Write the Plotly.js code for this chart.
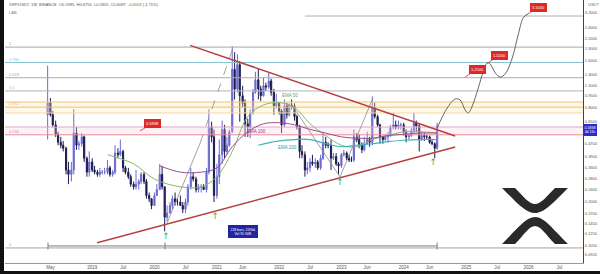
<!DOCTYPE html>
<html><head><meta charset="utf-8">
<script src="https://cdn.plot.ly/plotly-3.0.1.min.js"></script>
<style>html,body{margin:0;padding:0;background:#fff;}#wrap{position:relative;width:600px;height:274px;}#chart{width:600px;height:274px;}
.bar{position:absolute;background:#111;z-index:10;}</style>
</head><body><div id="wrap"><div id="chart"></div>
<div class="bar" style="left:0;top:0;width:4px;height:274px;"></div>
<div class="bar" style="left:0;top:271px;width:600px;height:3px;"></div>
</div>
<script>
// ---------- DATA ----------
const candleDates = [
'2018-04-15','2018-05-01','2018-05-15','2018-06-01','2018-06-15','2018-07-01','2018-07-15','2018-08-01','2018-08-15','2018-09-01','2018-09-15','2018-10-01','2018-10-15','2018-11-01','2018-11-15','2018-12-01','2018-12-15',
'2019-01-01','2019-01-15','2019-02-01','2019-02-15','2019-03-01','2019-03-15','2019-04-01','2019-04-15','2019-05-01','2019-05-15','2019-06-01','2019-06-15','2019-07-01','2019-07-15','2019-08-01','2019-08-15','2019-09-01','2019-09-15','2019-10-01','2019-10-15','2019-11-01','2019-11-15','2019-12-01','2019-12-15',
'2020-01-01','2020-01-15','2020-02-01','2020-02-15','2020-03-01','2020-03-15','2020-04-01','2020-04-15','2020-05-01','2020-05-15','2020-06-01','2020-06-15','2020-07-01','2020-07-15','2020-08-01','2020-08-15','2020-09-01','2020-09-15','2020-10-01','2020-10-15','2020-11-01','2020-11-15','2020-12-01','2020-12-15',
'2021-01-01','2021-01-15','2021-02-01','2021-02-15','2021-03-01','2021-03-15','2021-04-01','2021-04-15','2021-05-01','2021-05-15','2021-06-01','2021-06-15','2021-07-01','2021-07-15','2021-08-01','2021-08-15','2021-09-01','2021-09-15','2021-10-01','2021-10-15','2021-11-01','2021-11-15','2021-12-01','2021-12-15',
'2022-01-01','2022-01-15','2022-02-01','2022-02-15','2022-03-01','2022-03-15','2022-04-01','2022-04-15','2022-05-01','2022-05-15','2022-06-01','2022-06-15','2022-07-01','2022-07-15','2022-08-01','2022-08-15','2022-09-01','2022-09-15','2022-10-01','2022-10-15','2022-11-01','2022-11-15','2022-12-01','2022-12-15',
'2023-01-01','2023-01-15','2023-02-01','2023-02-15','2023-03-01','2023-03-15','2023-04-01','2023-04-15','2023-05-01','2023-05-15','2023-06-01','2023-06-15','2023-07-01','2023-07-15','2023-08-01','2023-08-15','2023-09-01','2023-09-15','2023-10-01','2023-10-15','2023-11-01','2023-11-15','2023-12-01','2023-12-15',
'2024-01-01','2024-01-15','2024-02-01','2024-02-15','2024-03-01','2024-03-15','2024-04-01','2024-04-15','2024-05-01','2024-05-15','2024-06-01','2024-06-15','2024-07-01','2024-07-15'];
const opens = [
0.72,0.86,0.72,0.62,0.54,0.48,0.46,0.44,0.32,0.30,0.32,0.55,0.46,0.47,0.52,0.38,0.31,
0.36,0.32,0.31,0.30,0.31,0.31,0.31,0.33,0.30,0.31,0.41,0.40,0.42,0.33,0.31,0.29,0.26,0.25,0.26,0.27,0.30,0.27,0.22,0.21,
0.19,0.22,0.24,0.30,0.25,0.16,0.17,0.19,0.21,0.20,0.20,0.19,0.18,0.20,0.25,0.29,0.28,0.24,0.25,0.25,0.24,0.31,0.60,0.52,
0.22,0.29,0.40,0.58,0.42,0.46,0.56,1.40,1.05,1.50,0.95,0.85,0.63,0.60,0.74,1.00,1.20,1.05,0.95,1.10,1.08,1.18,1.00,0.82,
0.85,0.76,0.62,0.82,0.72,0.83,0.82,0.70,0.60,0.42,0.40,0.32,0.33,0.36,0.35,0.36,0.33,0.38,0.48,0.46,0.46,0.38,0.39,0.35,
0.34,0.40,0.41,0.38,0.37,0.37,0.52,0.50,0.46,0.43,0.47,0.50,0.48,0.80,0.70,0.62,0.52,0.50,0.52,0.53,0.60,0.62,0.60,0.62,
0.62,0.56,0.52,0.53,0.57,0.64,0.61,0.50,0.53,0.52,0.52,0.48,0.47,0.44];
const highs = [
1.48,0.92,0.76,0.66,0.56,0.52,0.49,0.45,0.36,0.36,0.78,0.60,0.49,0.55,0.53,0.39,0.42,
0.38,0.34,0.32,0.33,0.32,0.33,0.37,0.34,0.32,0.46,0.44,0.50,0.43,0.34,0.33,0.30,0.27,0.32,0.28,0.31,0.31,0.28,0.23,0.21,
0.23,0.26,0.35,0.34,0.25,0.19,0.20,0.22,0.23,0.21,0.22,0.20,0.21,0.26,0.33,0.31,0.29,0.26,0.26,0.26,0.33,0.78,0.65,0.58,
0.35,0.50,0.66,0.62,0.52,0.58,1.96,1.80,1.75,1.58,1.10,0.90,0.68,0.78,1.05,1.35,1.41,1.10,1.24,1.15,1.35,1.22,1.05,0.98,
0.86,0.78,0.90,0.86,0.85,0.90,0.85,0.72,0.62,0.46,0.42,0.36,0.38,0.40,0.38,0.37,0.40,0.55,0.52,0.48,0.50,0.41,0.41,0.36,
0.41,0.43,0.42,0.40,0.39,0.58,0.55,0.54,0.48,0.52,0.56,0.52,0.94,0.86,0.72,0.63,0.53,0.54,0.56,0.62,0.74,0.66,0.66,0.64,
0.64,0.58,0.54,0.59,0.74,0.66,0.63,0.56,0.55,0.54,0.53,0.50,0.48,0.64];
const lows = [
0.50,0.70,0.60,0.52,0.46,0.44,0.42,0.30,0.26,0.27,0.30,0.43,0.43,0.45,0.36,0.29,0.29,
0.31,0.30,0.29,0.29,0.30,0.30,0.30,0.29,0.29,0.30,0.38,0.39,0.31,0.30,0.28,0.25,0.24,0.24,0.24,0.26,0.26,0.21,0.20,0.18,
0.19,0.22,0.24,0.24,0.13,0.15,0.17,0.18,0.19,0.19,0.19,0.17,0.17,0.19,0.24,0.27,0.23,0.23,0.23,0.24,0.23,0.30,0.48,0.20,
0.21,0.26,0.35,0.38,0.40,0.45,0.55,0.90,1.00,0.65,0.80,0.52,0.52,0.51,0.72,0.98,0.90,0.88,0.94,1.02,1.05,0.95,0.72,0.79,
0.72,0.55,0.60,0.68,0.70,0.78,0.66,0.58,0.38,0.38,0.29,0.30,0.31,0.34,0.33,0.32,0.32,0.37,0.44,0.44,0.32,0.37,0.34,0.30,
0.33,0.39,0.37,0.36,0.36,0.36,0.48,0.44,0.41,0.42,0.47,0.45,0.46,0.68,0.60,0.47,0.47,0.49,0.48,0.52,0.58,0.58,0.58,0.58,
0.53,0.48,0.50,0.52,0.55,0.56,0.42,0.49,0.49,0.50,0.47,0.46,0.38,0.43];
const closes = [
0.86,0.72,0.62,0.54,0.48,0.46,0.44,0.32,0.30,0.32,0.55,0.46,0.47,0.52,0.38,0.31,0.36,
0.32,0.31,0.30,0.31,0.31,0.31,0.33,0.30,0.31,0.41,0.40,0.42,0.33,0.31,0.29,0.26,0.25,0.26,0.27,0.30,0.27,0.22,0.21,0.19,
0.22,0.24,0.30,0.25,0.16,0.17,0.19,0.21,0.20,0.20,0.19,0.18,0.20,0.25,0.29,0.28,0.24,0.25,0.25,0.24,0.31,0.60,0.52,0.22,
0.29,0.40,0.58,0.42,0.46,0.56,1.40,1.05,1.50,0.95,0.85,0.63,0.60,0.74,1.00,1.20,1.05,0.95,1.10,1.08,1.18,1.00,0.82,0.85,
0.76,0.62,0.82,0.72,0.83,0.82,0.70,0.60,0.42,0.40,0.32,0.33,0.36,0.35,0.36,0.33,0.38,0.48,0.46,0.46,0.38,0.39,0.35,0.34,
0.40,0.41,0.38,0.37,0.37,0.52,0.50,0.46,0.43,0.47,0.50,0.48,0.80,0.70,0.62,0.52,0.50,0.52,0.53,0.60,0.62,0.60,0.62,0.62,
0.56,0.52,0.53,0.57,0.64,0.61,0.50,0.53,0.52,0.52,0.48,0.47,0.44,0.61];

const ema50Dates = ['2019-04-01','2019-09-01','2020-01-01','2020-06-01','2020-10-01','2021-01-01','2021-04-01','2021-07-01','2021-10-01','2022-01-01','2022-04-01','2022-07-01','2022-10-01','2023-01-01','2023-04-01','2023-07-01','2023-10-01','2024-01-01','2024-04-01','2024-07-20'];
const ema50 = [0.40,0.35,0.28,0.25,0.25,0.29,0.42,0.70,0.83,0.86,0.80,0.63,0.53,0.46,0.45,0.50,0.53,0.56,0.56,0.55];
const ema100Dates = ['2020-02-01','2020-06-01','2020-10-01','2021-01-01','2021-04-01','2021-07-01','2021-10-01','2022-01-01','2022-04-01','2022-07-01','2022-10-01','2023-01-01','2023-04-01','2023-07-01','2023-10-01','2024-01-01','2024-04-01','2024-07-20'];
const ema100 = [0.34,0.31,0.31,0.33,0.45,0.56,0.63,0.64,0.62,0.58,0.55,0.52,0.51,0.51,0.53,0.54,0.55,0.55];
const ema200Dates = ['2021-09-01','2022-01-01','2022-04-01','2022-07-01','2022-10-01','2023-01-01','2023-04-01','2023-07-01','2023-10-01','2024-01-01','2024-04-01','2024-07-20'];
const ema200 = [0.46,0.49,0.50,0.50,0.47,0.45,0.46,0.47,0.485,0.495,0.50,0.50];

const fibLabels = ['1','0.786','0.618','0.5','0.382','0.236','0'];
const fibPrices = [1.94,1.547,1.238,1.02,0.804,0.536,0.102];
const zonePrices = [0.867,0.738,0.601];
const topLinePrice = 3.06;

const upperDates = ['2020-07-28','2024-10-29'];
const upperPrices = [1.99,0.527];
const lowerDates = ['2019-01-30','2024-10-29'];
const lowerPrices = [0.110,0.448];

const patADates = ['2020-03-15','2020-09-25'];
const patAPrices = [0.147,0.475];
const patBDates = ['2020-09-25','2021-04-07'];
const patBPrices = [0.475,1.94];
const patCDates = ['2022-03-17','2022-12-24','2023-07-05'];
const patCPrices = [0.83,0.289,0.92];

const projDates = ['2024-07-15','2024-09-12','2024-10-29','2024-11-27','2024-12-26','2025-01-13','2025-02-06','2025-03-13','2025-04-11','2025-05-05','2025-05-22','2025-06-21','2025-07-20','2025-08-18','2025-09-28','2025-11-02','2025-12-01','2025-12-25'];
const projPrices = [0.592,0.794,0.906,0.893,0.771,0.738,0.818,1.065,1.346,1.538,1.514,1.327,1.25,1.31,1.65,2.32,2.97,3.15];

const targetTexts = ['1.2500','1.5200','3.1000'];
const targetDates = ['2024-12-26','2025-05-05','2025-12-19'];
const targetPrices = [1.25,1.53,3.10];

const arrowDates = ['2020-03-09','2020-12-23','2022-12-24','2024-06-22'];
const arrowPrices = [0.1197,0.1606,0.264,0.354];

const rangeDates = ['2018-04-17','2020-03-03','2024-07-15'];
const rangePrice = 0.105;

const xTickVals = ['2018-05-01','2019-01-01','2019-07-01','2020-01-01','2020-07-01','2021-01-01','2021-06-01','2022-01-01','2022-07-01','2023-01-01','2023-06-01','2024-01-01','2024-06-01','2025-01-01','2025-07-01','2026-01-01','2026-07-01'];
const xTickText = ['May','2019','Jul','2020','Jul','2021','Jun','2022','Jul','2023','Jun','2024','Jun','2025','Jul','2026','Jul'];
const yTickVals = [3.2,2.6,2.2,1.9,1.6,1.3,1.1,0.95,0.8,0.65,0.47,0.39,0.33,0.28,0.24,0.2,0.17,0.145,0.125,0.105,0.092];
const yTickText = ['3.2000','2.6000','2.2000','1.9000','1.6000','1.3000','1.1000','0.9500','0.8000','0.6500','0.4700','0.3900','0.3300','0.2800','0.2400','0.2000','0.1700','0.1450','0.1250','0.1050','0.0920'];

const lastPrice = 0.579;
const lastPriceText = '0.5838';

// ---------- STYLE ----------
const X0 = '2017-08-08', X1 = '2026-11-17';
const fibColors = ['#a6a6a6','#86c6d1','#acacac','#b5b5b5','#efbf78','#e68a9c','#a6a6a6'];
const zoneColors = ['#f3c27f','#f5d9a6','#e6a3c2'];
const FONT = 'Liberation Sans, Arial, sans-serif';
const L10 = Math.log10;

const traces = [];
traces.push({x:[X0,X1,X1,X0,X0], y:[zonePrices[1],zonePrices[1],zonePrices[0],zonePrices[0],zonePrices[1]], mode:'lines', fill:'toself', fillcolor:'rgba(255,232,170,0.30)', line:{width:0}, hoverinfo:'skip'});
traces.push({x:[X0,X1,X1,X0,X0], y:[fibPrices[5],fibPrices[5],zonePrices[2],zonePrices[2],fibPrices[5]], mode:'lines', fill:'toself', fillcolor:'rgba(250,205,220,0.28)', line:{width:0}, hoverinfo:'skip'});
fibPrices.forEach((p,i)=>traces.push({x:[X0,X1], y:[p,p], mode:'lines', line:{color:fibColors[i], width:1}, hoverinfo:'skip'}));
zonePrices.forEach((p,i)=>traces.push({x:[X0,X1], y:[p,p], mode:'lines', line:{color:zoneColors[i], width:1}, hoverinfo:'skip'}));
traces.push({x:['2022-06-01',X1], y:[topLinePrice,topLinePrice], mode:'lines', line:{color:'#b0b0b0', width:1}, hoverinfo:'skip'});
traces.push({x:[rangeDates[0],rangeDates[2],null,rangeDates[0],rangeDates[0],null,rangeDates[1],rangeDates[1],null,rangeDates[2],rangeDates[2]],
  y:[rangePrice,rangePrice,null,0.0997,0.1104,null,0.0997,0.1104,null,0.0997,0.1104], mode:'lines', line:{color:'#7d7d7d', width:1}, hoverinfo:'skip'});
traces.push({type:'candlestick', x:candleDates, open:opens, high:highs, low:lows, close:closes,
  increasing:{line:{color:'#6a6ad2', width:1}, fillcolor:'#6a6ad2'},
  decreasing:{line:{color:'#1d1d4d', width:1}, fillcolor:'#1d1d4d'},
  whiskerwidth:0, hoverinfo:'skip'});
traces.push({x:ema50Dates, y:ema50, mode:'lines', line:{color:'#86b96f', width:1, shape:'spline'}, hoverinfo:'skip'});
traces.push({x:ema100Dates, y:ema100, mode:'lines', line:{color:'#9a4f92', width:1, shape:'spline'}, hoverinfo:'skip'});
traces.push({x:ema200Dates, y:ema200, mode:'lines', line:{color:'#3fb2b6', width:1.2, shape:'spline'}, hoverinfo:'skip'});
traces.push({x:patADates, y:patAPrices, mode:'lines', line:{color:'#8a8a8a', width:0.8}, hoverinfo:'skip'});
traces.push({x:patBDates, y:patBPrices, mode:'lines', line:{color:'#8a8a8a', width:0.8, dash:'dash'}, hoverinfo:'skip'});
traces.push({x:patCDates, y:patCPrices, mode:'lines', line:{color:'#8a8a8a', width:0.8}, hoverinfo:'skip'});
traces.push({x:upperDates, y:upperPrices, mode:'lines', line:{color:'#b5403f', width:1.5}, hoverinfo:'skip'});
traces.push({x:lowerDates, y:lowerPrices, mode:'lines', line:{color:'#b5403f', width:1.5}, hoverinfo:'skip'});
traces.push({x:projDates, y:projPrices, mode:'lines', line:{color:'#555', width:0.9, shape:'spline', smoothing:1}, hoverinfo:'skip'});
traces.push({x:arrowDates, y:arrowPrices, mode:'text', text:arrowDates.map(()=>'↑'), textfont:{size:9, color:'#4caf50', family:'DejaVu Sans'}, hoverinfo:'skip'});

const ann = [];
fibLabels.forEach((t,i)=>ann.push({xref:'paper', yref:'y', x:0.004, y:L10(fibPrices[i]), xanchor:'left', yanchor:'bottom', text:t, showarrow:false, font:{size:4, color:fibColors[i], family:FONT}, yshift:-1}));
ann.push({xref:'paper', yref:'paper', x:0.004, y:0.981, xanchor:'left', yanchor:'middle', showarrow:false,
  text:'XRP/USDT, 1W, BINANCE  O0.5985  H0.6750  L0.5805  C0.6087  -0.0103 (-1.71%)', font:{size:4, color:'#555', family:FONT}});
ann.push({xref:'paper', yref:'paper', x:0.004, y:0.954, xanchor:'left', yanchor:'middle', showarrow:false, text:'LAB', font:{size:4, color:'#777', family:FONT}});
ann.push({xref:'paper', yref:'paper', x:1.005, y:0.981, xanchor:'left', yanchor:'middle', showarrow:false, text:'USDT', font:{size:4, color:'#666', family:FONT}});
ann.push({x:'2022-03-06', y:-0.0173, text:'EMA 50', showarrow:false, font:{size:4.5, color:'#6aa84f', family:FONT}});
ann.push({x:'2021-08-24', y:-0.2466, text:'EMA 100', showarrow:false, font:{size:4.5, color:'#8e3f88', family:FONT}});
ann.push({x:'2022-02-16', y:-0.3485, text:'EMA 200', showarrow:false, font:{size:4.5, color:'#2aa3a8', family:FONT}});
targetTexts.forEach((t,i)=>ann.push({x:targetDates[i], y:L10(targetPrices[i]), text:t, showarrow:true, arrowhead:0, arrowwidth:0.8, arrowcolor:'#d32f2f', ax:12, ay:-8,
  bgcolor:'#e02828', bordercolor:'#e02828', borderpad:1, font:{size:4, color:'#fff', family:FONT}}));
ann.push({x:'2019-10-08', y:-0.2466, text:'0.5838', showarrow:true, arrowhead:0, arrowwidth:0.8, arrowcolor:'#d32f2f', ax:13, ay:-8,
  bgcolor:'#e02828', bordercolor:'#e02828', borderpad:1, font:{size:4, color:'#fff', family:FONT}});
ann.push({x:'2021-06-04', y:-0.887, text:'228 bars, 1596d<br>Vol 95.94B', showarrow:false, bgcolor:'#2323a6', bordercolor:'#2323a6', borderpad:1.5,
  font:{size:3.4, color:'#fff', family:FONT}});
ann.push({xref:'paper', yref:'y', x:1.0, y:L10(lastPrice), xanchor:'left', yanchor:'middle', text:lastPriceText+'<br>4d 11h', showarrow:false,
  bgcolor:'#2a2ad0', bordercolor:'#2a2ad0', borderpad:0.5, font:{size:3.6, color:'#fff', family:FONT}});

function P(px,py){ return ((px-5)/578).toFixed(4)+','+((263-py)/263).toFixed(4); }
const logoTop = 'M'+P(502,188)+' C'+P(518,204)+' '+P(526,213)+' '+P(535,213)+' C'+P(544,213)+' '+P(552,204)+' '+P(568,188)+
  ' L'+P(555,188)+' C'+P(546,197)+' '+P(541,204)+' '+P(535,204)+' C'+P(529,204)+' '+P(524,197)+' '+P(515,188)+' Z';
const logoBot = 'M'+P(502,244)+' C'+P(518,228)+' '+P(526,217)+' '+P(535,217)+' C'+P(544,217)+' '+P(552,228)+' '+P(568,244)+
  ' L'+P(555,244)+' C'+P(546,235)+' '+P(541,226)+' '+P(535,226)+' C'+P(529,226)+' '+P(524,235)+' '+P(515,244)+' Z';
const shapes = [
  {type:'path', xref:'paper', yref:'paper', path:logoTop, fillcolor:'#2a2a2a', line:{width:0}},
  {type:'path', xref:'paper', yref:'paper', path:logoBot, fillcolor:'#2a2a2a', line:{width:0}}
];

const layout = {
  width:600, height:274, margin:{l:5, r:17, t:0, b:11},
  paper_bgcolor:'#fff', plot_bgcolor:'#fff', showlegend:false,
  font:{family:FONT},
  xaxis:{type:'date', range:[X0,X1], tickmode:'array', tickvals:xTickVals, ticktext:xTickText, tickfont:{size:4.5, color:'#555'},
    showgrid:false, zeroline:false, showline:true, linecolor:'#9a9a9a', linewidth:1, ticks:'', rangeslider:{visible:false}, fixedrange:true},
  yaxis:{type:'log', side:'right', range:[-1.0874,0.5878], tickmode:'array', tickvals:yTickVals, ticktext:yTickText, tickfont:{size:4, color:'#555'},
    showgrid:false, zeroline:false, showline:true, linecolor:'#444', linewidth:1, ticks:'', fixedrange:true},
  shapes:shapes, annotations:ann
};
Plotly.newPlot('chart', traces, layout, {staticPlot:true, displayModeBar:false});
</script></body></html>
